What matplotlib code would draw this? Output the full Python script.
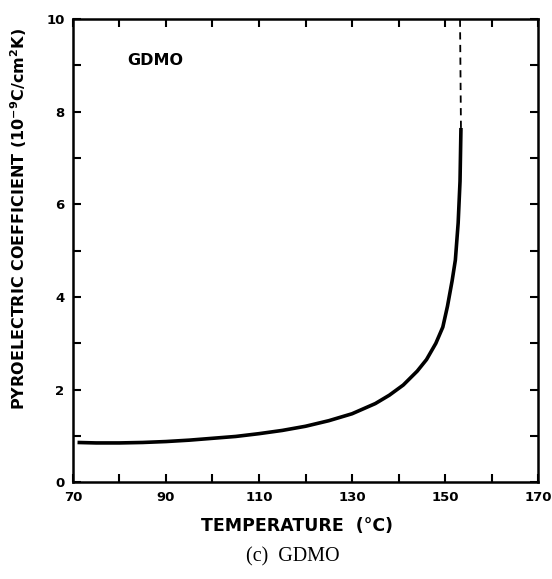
import matplotlib
matplotlib.use('Agg')
import matplotlib.pyplot as plt
from matplotlib.ticker import MultipleLocator

# curve
temperature = [71, 75, 80, 85, 90, 95, 100, 105, 110, 115, 120, 125, 130, 135,
               138, 141, 144, 146, 148, 149.5, 150.5, 151.5, 152.2, 152.8, 153.2, 153.4]
coefficient = [0.86, 0.85, 0.85, 0.86, 0.88, 0.91, 0.95, 0.99, 1.05, 1.12, 1.21, 1.33, 1.48, 1.70,
               1.88, 2.10, 2.40, 2.65, 3.00, 3.35, 3.80, 4.35, 4.80, 5.60, 6.50, 7.65]

# dashed continuation towards the transition
dash_temperature = [153.4, 153.2]
dash_coefficient = [7.65, 10.0]

x_ticks = [70, 90, 110, 130, 150, 170]
y_ticks = [0, 2, 4, 6, 8, 10]

fig = plt.figure(figsize=(5.52, 5.79), dpi=100)
ax = fig.add_axes([0.132, 0.167, 0.843, 0.800])

ax.plot(temperature, coefficient, color='black', lw=2.6, solid_capstyle='butt')
ax.plot(dash_temperature, dash_coefficient, color='black', lw=1.3, dashes=(4, 3))

ax.set_xlim(70, 170)
ax.set_ylim(0, 10)
ax.set_xticks(x_ticks)
ax.set_yticks(y_ticks)
ax.xaxis.set_minor_locator(MultipleLocator(10))
ax.yaxis.set_minor_locator(MultipleLocator(1))
ax.tick_params(which='both', direction='in', top=True, right=True, length=6, width=1.5,
               labelsize=9.5, pad=6)
ax.tick_params(axis='y', which='both', labelright=False)
ax.tick_params(axis='x', which='both', labeltop=False)
for s in ax.spines.values():
    s.set_linewidth(1.8)

for lab in ax.get_xticklabels() + ax.get_yticklabels():
    lab.set_fontweight('bold')

ax.text(87.6, 9.1, 'GDMO', fontsize=11.5, fontweight='bold', ha='center', va='center')

ax.set_xlabel('TEMPERATURE  (°C)', fontsize=12.5, fontweight='bold')
ax.xaxis.set_label_coords(0.482, -0.074)
ax.set_ylabel('PYROELECTRIC COEFFICIENT (10$^{\\mathbf{-9}}$C/cm$^{\\mathbf{2}}$K)',
              fontsize=11.5, fontweight='bold')
ax.yaxis.set_label_coords(-0.094, 0.568)

fig.text(0.531, 0.038, '(c)  GDMO', fontsize=14.5, family='Liberation Serif',
         ha='center', va='center')

fig.savefig('out.png', dpi=100)
